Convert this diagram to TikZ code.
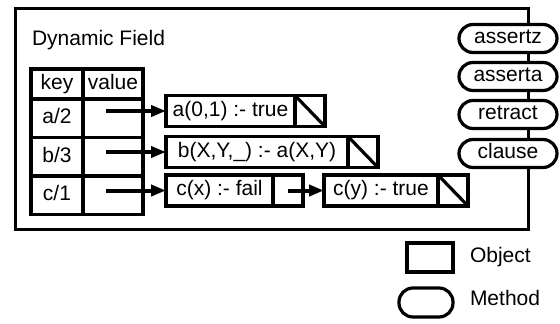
\documentclass[tikz,border=0pt]{standalone}
\usepackage{fontspec}
\setmainfont{Liberation Sans}
\usetikzlibrary{arrows.meta}
\tikzset{every picture/.style={line width=3.2pt,inner sep=0pt,outer sep=0pt,font=\fontsize{21}{25}\selectfont}}
\tikzset{every node/.style={text height=15pt,text depth=4.5pt}}
\tikzset{
  obj/.style={draw,rectangle,line width=3.2pt,minimum height=31pt},
  cell/.style={draw,rectangle,line width=3.2pt,minimum width=30pt,minimum height=31pt},
  keycell/.style={draw,rectangle,line width=3.4pt,minimum width=52pt,minimum height=38.5pt},
  valcell/.style={draw,rectangle,line width=3.4pt,minimum width=60pt,minimum height=38.5pt},
  meth/.style={draw,rectangle,line width=3.2pt,rounded corners=14pt,fill=white,minimum width=98pt,minimum height=28pt},
  ptr/.style={-{Triangle[length=15pt,width=11pt]},line width=4pt}
}

\begin{document}
\begin{tikzpicture}[x=1pt,y=-1pt]
\useasboundingbox (0,0) rectangle (560,324);
% the field
\node[draw,line width=3pt,minimum width=513pt,minimum height=221pt] (field) at (271.5,118.5) {};
\node[anchor=west] (title) at (32,40) {Dynamic Field};

% key/value table
\node[keycell,minimum height=30pt] (kh) at (57,84) {key};
\node[valcell,minimum height=30pt] (vh) at (113,84) {value};
\node[keycell] (k1) at (57,118.25) {a/2};
\node[valcell] (v1) at (113,118.25) {};
\node[keycell] (k2) at (57,156.75) {b/3};
\node[valcell] (v2) at (113,156.75) {};
\node[keycell] (k3) at (57,195.25) {c/1};
\node[valcell] (v3) at (113,195.25) {};

% clauses
\node[obj,minimum width=129pt] (a1) at (230.5,111) {a(0,1) :- true};
\node[cell,anchor=west] (a1p) at (a1.east) {};
\draw (a1p.north west) -- (a1p.south east);
\node[obj,minimum width=182pt] (b1) at (257,152) {b(X,Y,\_) :- a(X,Y)};
\node[cell,anchor=west] (b1p) at (b1.east) {};
\draw (b1p.north west) -- (b1p.south east);
\node[obj,minimum width=107pt] (c1) at (219.5,190.5) {c(x) :- fail};
\node[cell,anchor=west] (c1p) at (c1.east) {};
\node[obj,minimum width=114pt] (c2) at (381,190.5) {c(y) :- true};
\node[cell,anchor=west] (c2p) at (c2.east) {};
\draw (c2p.north west) -- (c2p.south east);

% pointers
\coordinate (s1) at (106,111);
\coordinate (s2) at (106,152);
\coordinate (s3) at (106,190.5);
\draw[ptr] (s1) -- (a1.west);
\draw[ptr] (s2) -- (b1.west);
\draw[ptr] (s3) -- (c1.west);
\draw[ptr] (c1p.center) -- (c2.west);

% methods
\node[meth] (az) at (508,38.5) {assertz};
\node[meth] (aa) at (508,76.5) {asserta};
\node[meth] (rt) at (508,114.5) {retract};
\node[meth] (cl) at (508,153.5) {clause};

% legend
\node[draw,line width=3.2pt,minimum width=46pt,minimum height=29pt] (lobj) at (430,257.5) {};
\node[anchor=west] (lobjt) at (470,257) {Object};
\node[meth,minimum width=54pt,minimum height=29pt] (lmeth) at (426,302.5) {};
\node[anchor=west] (lmetht) at (470,300) {Method};
\end{tikzpicture}
\end{document}
